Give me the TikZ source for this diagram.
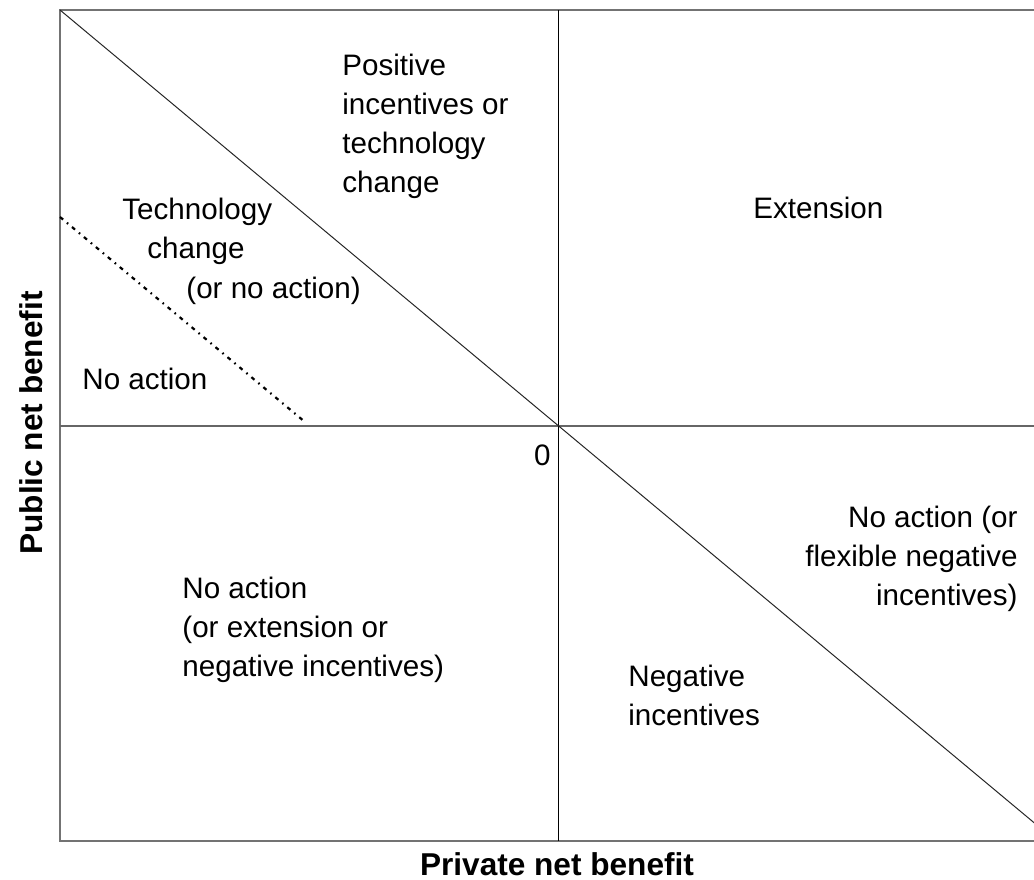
\documentclass[tikz,border=0pt]{standalone}
\usepackage{fontspec}
\setmainfont{Liberation Sans}

\begin{document}
\begin{tikzpicture}[x=0.5pt,y=-0.5pt]

\tikzstyle{label}=[inner sep=0pt, font=\fontsize{14.8}{19.5}\selectfont]
\tikzstyle{axislabel}=[inner sep=0pt, font=\fontsize{15.8}{18}\selectfont\bfseries]
\tikzstyle{frame}=[draw=black!55, line width=1pt]
\tikzstyle{haxis}=[draw=black!60, line width=0.75pt]
\tikzstyle{vaxis}=[draw=black, line width=0.5pt]
\tikzstyle{diag}=[draw=black!85, line width=0.5pt]
\tikzstyle{border}=[draw=black, line width=1.1pt, dash pattern=on 2pt off 2.5pt on 0.8pt off 2.5pt]

\useasboundingbox (0,0) rectangle (1034,879);
\clip (0,0) rectangle (1034,879);

\coordinate (topleft) at (60,10);
\coordinate (botleft) at (60,841);
\coordinate (origin) at (558.7,426);
\coordinate (xleft) at (60,426);
\coordinate (xright) at (1060,426);
\coordinate (ytop) at (558.7,10);
\coordinate (ybot) at (558.7,841);
\coordinate (diagend) at (1056,841);
\coordinate (dotstart) at (60,217);
\coordinate (dotend) at (305,422);

\draw[frame] (topleft) rectangle (1060,841);
\draw[haxis] (xleft) -- (xright);
\draw[vaxis] (ytop) -- (ybot);
\draw[diag] (topleft) -- (origin) -- (diagend);
\draw[border] (dotstart) -- (dotend);

% multi-line nodes: base = last line
\node[label, anchor=base west, align=left] (positive) at (342,192) {Positive\\incentives or\\technology\\change};
\node[label, anchor=base west] (extension) at (753,218) {Extension};
\node[label, anchor=base west] (tech) at (122,219) {Technology};
\node[label, anchor=base west] (techchange) at (147,258) {change};
\node[label, anchor=base west] (technoact) at (186,298) {(or no action)};
\node[label, anchor=base west] (noaction) at (82,389) {No action};
\node[label, anchor=base east] (zero) at (551,465) {0};
\node[label, anchor=base east, align=right] (flexible) at (1018,605) {No action (or\\flexible negative\\incentives)};
\node[label, anchor=base west, align=left] (extneg) at (182,676) {No action\\(or extension or\\negative incentives)};
\node[label, anchor=base west, align=left] (negative) at (628,725) {Negative\\incentives};

\node[axislabel, anchor=base] (private) at (557,875) {Private net benefit};
\node[axislabel, anchor=base, rotate=90] (public) at (42,423) {Public net benefit};
\end{tikzpicture}
\end{document}
